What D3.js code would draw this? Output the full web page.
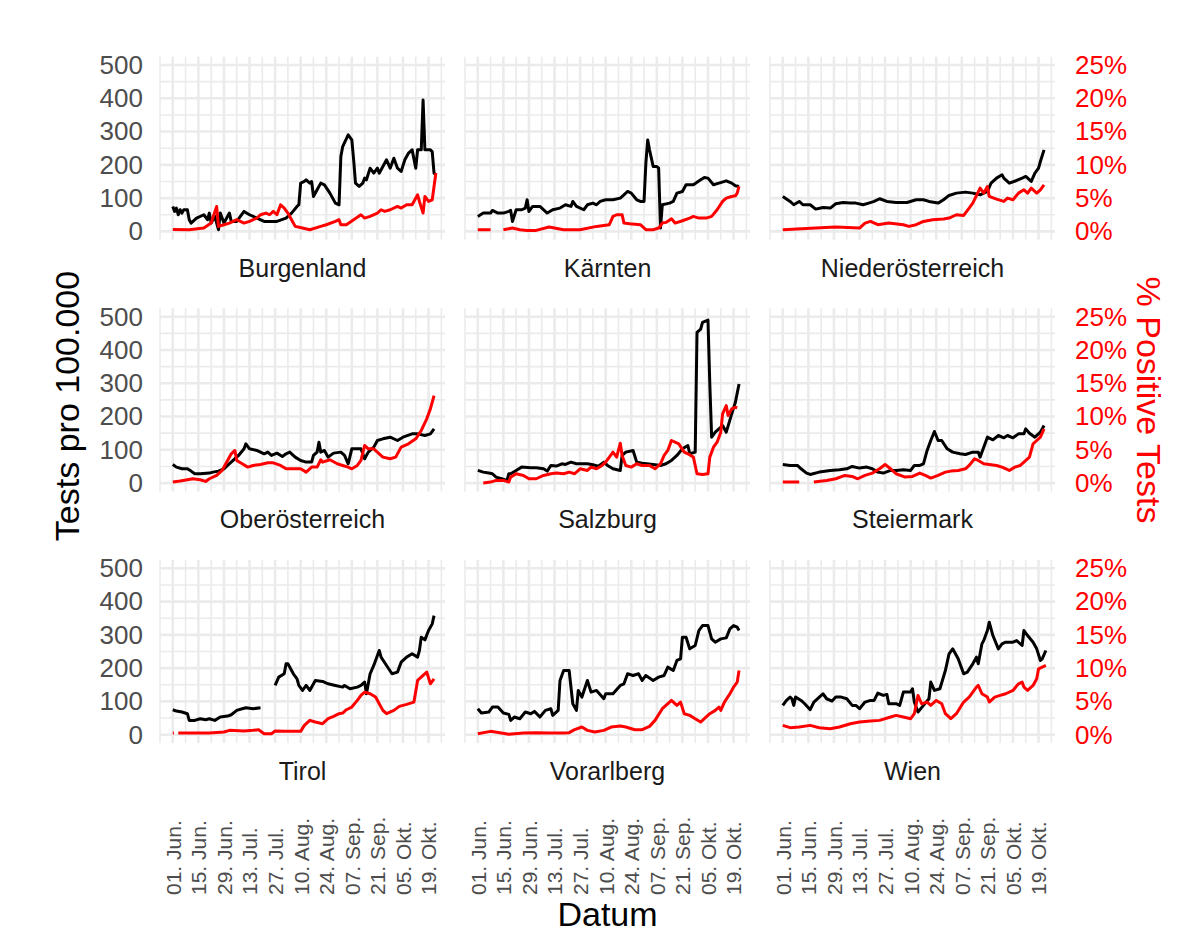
<!DOCTYPE html>
<html>
<head>
<meta charset="utf-8">
<script src="https://cdn.jsdelivr.net/npm/d3@7"></script>
<style>
  body { margin: 0; background: #fff; }
  text { font-family: "Liberation Sans", Arial, Helvetica, sans-serif; }
</style>
</head>
<body>
<div id="chart"></div>
<script>
//Panel order, row by row.
const states = ["Burgenland", "Kärnten", "Niederösterreich",
                "Oberösterreich", "Salzburg", "Steiermark",
                "Tirol", "Vorarlberg", "Wien"];

//Each pair is [days since 01. Jun. 2020, value]. null makes a gap.
//Tests per 100.000 inhabitants.
const testsBurgenland = [[0,75],[1,60],[2,70],[3,50],[4,65],[5,55],[6,65],[8,65],[9,35],[10,25],[13,40],[17,50],[19,35],[20,55],[21,25],[23,45],[25,5],[26,55],[28,25],[31,55],[32,30],[35,30],[39,60],[42,50],[46,40],[50,30],[57,30],[62,40],[65,55],[68,75],[69,80],[70,145],[72,150],[73,155],[75,145],[76,150],[77,105],[79,125],[81,145],[83,140],[86,115],[89,85],[91,80],[92,225],[93,255],[96,290],[98,275],[99,215],[100,145],[102,135],[104,145],[105,160],[106,155],[108,190],[110,175],[112,190],[113,175],[115,195],[117,215],[119,190],[121,220],[123,190],[125,180],[127,215],[129,235],[131,245],[133,190],[134,245],[136,245],[137,395],[138,245],[139,245],[141,245],[142,240],[143,175],[144,170]];
const testsKaernten = [[0,45],[3,55],[7,55],[8,63],[11,55],[14,55],[17,60],[18,63],[19,30],[21,65],[24,65],[26,70],[27,95],[28,60],[30,75],[34,75],[38,55],[41,65],[45,70],[48,80],[51,75],[52,90],[54,75],[58,65],[60,80],[63,85],[65,80],[67,90],[70,95],[74,95],[78,100],[80,110],[82,120],[84,115],[87,95],[89,90],[91,90],[92,205],[93,275],[94,245],[96,195],[98,195],[99,190],[100,10],[101,80],[105,85],[107,90],[109,115],[112,120],[114,140],[118,140],[122,155],[124,162],[126,160],[129,140],[132,145],[136,152],[139,145],[141,137],[143,135]];
const testsNiederoesterreich = [[0,105],[4,90],[6,80],[9,90],[11,80],[15,80],[18,67],[22,72],[26,70],[29,83],[33,87],[37,85],[40,85],[44,80],[47,85],[50,90],[53,98],[57,90],[62,87],[68,87],[73,95],[77,95],[80,90],[85,85],[88,95],[91,108],[95,115],[100,118],[104,115],[108,110],[110,115],[112,120],[114,145],[117,160],[120,170],[121,160],[124,145],[128,153],[131,160],[133,165],[136,150],[138,175],[140,190],[141,210],[143,245]];
const testsOberoesterreich = [[0,56],[2,48],[5,43],[8,43],[10,36],[12,28],[15,28],[20,30],[22,33],[25,36],[28,43],[30,53],[33,68],[36,83],[39,103],[40,118],[42,103],[46,98],[50,88],[52,93],[54,83],[57,90],[60,80],[62,88],[64,93],[67,78],[70,68],[73,63],[76,63],[77,83],[79,93],[80,123],[81,93],[83,98],[85,78],[88,90],[92,93],[94,83],[96,58],[98,103],[101,103],[103,103],[105,73],[107,93],[110,108],[112,128],[115,133],[119,138],[123,128],[126,138],[131,148],[134,148],[138,143],[141,148],[143,163]];
const testsSalzburg = [[0,38],[3,33],[6,30],[8,28],[10,18],[13,13],[16,8],[17,28],[18,28],[21,38],[24,48],[29,46],[32,46],[36,43],[38,36],[40,53],[43,51],[46,58],[48,56],[51,63],[54,58],[60,58],[63,55],[66,51],[69,63],[71,53],[74,43],[78,38],[79,83],[81,93],[85,98],[87,63],[90,60],[96,56],[100,53],[103,58],[106,68],[109,83],[112,103],[115,113],[116,88],[119,93],[120,453],[122,463],[123,483],[126,490],[127,298],[128,138],[130,153],[132,163],[134,173],[136,153],[139,208],[141,243],[143,298]];
const testsSteiermark = [[0,56],[4,53],[8,53],[10,43],[13,30],[15,26],[20,33],[26,38],[31,40],[35,43],[38,50],[42,45],[46,48],[49,43],[52,33],[55,30],[59,38],[62,38],[66,40],[70,38],[72,53],[75,53],[77,58],[79,98],[81,128],[83,155],[85,128],[87,128],[90,103],[93,93],[97,88],[100,86],[104,93],[107,93],[108,78],[110,108],[112,138],[115,130],[118,143],[121,136],[123,143],[126,136],[129,148],[132,148],[133,163],[135,150],[138,138],[141,153],[143,173]];
const testsTirol = [[0,75],[2,71],[5,68],[8,63],[9,43],[12,43],[15,48],[18,45],[20,48],[23,43],[26,53],[30,56],[32,60],[35,73],[38,78],[40,81],[44,78],[48,81],[48.5,null],[56,148],[58,173],[61,183],[62,213],[63,213],[66,183],[68,168],[69,148],[71,133],[73,148],[75,133],[78,163],[82,160],[85,153],[89,148],[93,143],[94,148],[97,138],[101,143],[103,148],[105,158],[106,123],[108,183],[110,208],[111,223],[113,253],[114,233],[117,208],[120,183],[123,188],[125,218],[128,233],[131,243],[134,233],[135,253],[136,293],[138,285],[140,313],[142,333],[143,358]];
const testsVorarlberg = [[0,78],[2,65],[6,68],[8,83],[11,83],[14,65],[17,61],[18,43],[20,53],[23,48],[26,68],[29,63],[31,70],[34,53],[37,73],[40,78],[41,58],[44,73],[45,163],[47,193],[50,193],[52,93],[54,73],[55,133],[57,113],[60,163],[62,128],[65,133],[69,108],[70,123],[74,123],[78,148],[80,153],[82,183],[85,178],[88,183],[90,163],[92,178],[96,163],[99,173],[102,178],[104,203],[107,193],[109,223],[111,228],[112,293],[114,293],[116,258],[119,268],[121,313],[123,328],[126,328],[128,288],[130,278],[133,288],[136,291],[138,318],[140,328],[142,323],[143,313]];
const testsWien = [[0,88],[2,103],[4,113],[5,108],[6,88],[7,113],[10,103],[12,93],[15,75],[17,98],[20,113],[22,123],[24,108],[27,101],[29,113],[32,113],[35,108],[38,88],[40,88],[42,78],[45,98],[48,103],[50,103],[52,125],[55,118],[57,121],[58,93],[62,93],[64,88],[66,128],[70,128],[71,138],[72,98],[74,68],[77,88],[80,108],[81,158],[83,133],[86,138],[89,193],[91,243],[93,258],[96,228],[99,183],[101,188],[104,213],[106,233],[107,213],[109,273],[110,283],[112,313],[113,338],[115,298],[118,258],[120,273],[122,278],[126,278],[128,283],[131,268],[132,313],[134,298],[137,278],[139,258],[141,223],[142,228],[144,253]];

//Share of positive tests in percent.
const posBurgenland = [[0,0.3],[9,0.25],[17,0.5],[21,1.25],[24,3.75],[25,0.75],[28,1],[31,1.25],[35,1.75],[39,1.25],[42,1.5],[46,2],[48,2.5],[51,2.75],[53,2.5],[55,3],[57,2.5],[59,4],[61,3.5],[63,2.75],[65,1.75],[67,0.75],[71,0.5],[75,0.25],[81,0.75],[84,1],[89,1.5],[91,1.75],[92,1],[95,1],[99,1.75],[103,2.5],[105,2],[108,2.25],[112,2.75],[114,3.25],[116,3],[119,3.25],[123,3.75],[125,3.5],[128,4],[131,4],[134,5.5],[135,4.5],[137,2.75],[138,5.25],[140,4.5],[142,4.75],[144,8.75]];
const posKaernten = [[0,0.25],[7,0.25],[7.5,null],[14,0.25],[19,0.5],[23,0.25],[27,0.15],[32,0.15],[39,0.65],[47,0.25],[56,0.25],[65,0.75],[72,1],[74,2.25],[76,2.5],[79,2.5],[80,1.25],[83,1.15],[89,1],[92,0.25],[96,0.25],[99,0.5],[101,1.25],[103,1.35],[106,1.9],[108,1.25],[112,1.6],[116,2],[118,2.25],[121,2],[125,2],[128,2.25],[131,3.25],[134,4.5],[136,5],[139,5.25],[141,5.35],[142,5.75],[143,6.75]];
const posNiederoesterreich = [[0,0.25],[18,0.5],[29,0.65],[42,0.5],[45,1.25],[48,1.5],[52,1],[58,1.25],[66,1],[69,0.75],[73,1],[77,1.5],[82,1.75],[88,1.85],[91,2],[95,2.5],[99,2.4],[102,3.5],[104,4.25],[108,6.5],[110,5.75],[112,6.75],[113,5.25],[117,4.85],[121,4.5],[123,5],[126,4.75],[129,5.75],[132,6.25],[134,5.75],[136,6.5],[139,5.75],[141,6.25],[143,7]];
const posOberoesterreich = [[0,0.15],[4,0.3],[8,0.5],[11,0.65],[15,0.5],[18,0.25],[20,0.65],[24,1.15],[27,1.9],[30,3.4],[32,4.4],[34,4.9],[35,3.4],[38,2.9],[41,2.4],[44,2.65],[48,2.8],[52,3.05],[55,3.05],[59,2.65],[62,2.15],[66,2.15],[70,2.15],[73,1.65],[76,2.4],[79,2.4],[81,3.5],[82,3.15],[86,3.5],[90,2.9],[93,2.65],[96,2.4],[98,2.15],[101,2.65],[103,3.4],[105,5.65],[107,5.15],[110,5.15],[113,4.4],[115,3.9],[119,3.65],[122,3.9],[125,5.4],[129,5.9],[133,6.65],[136,7.9],[139,9.65],[141,11.15],[143,13.15]];
const posSalzburg = [[3,0],[7,0.15],[10,0.4],[14,0.4],[17,0.15],[18,0.9],[21,1.4],[25,1.15],[28,0.65],[32,0.65],[36,1.15],[40,1.4],[43,1.5],[47,1.4],[50,1.65],[53,1.4],[56,2.15],[60,1.9],[62,2.4],[65,2.15],[68,2.65],[70,3.15],[72,3.9],[74,4.65],[76,3.9],[78,6],[79,4.15],[81,2.65],[84,2.4],[87,2.9],[90,2.65],[94,2.65],[97,2.15],[100,2.9],[102,4.15],[104,4.9],[106,6.4],[108,6.15],[110,5.9],[113,4.65],[115,4.4],[118,3.9],[120,1.4],[123,1.3],[126,1.4],[127,3.9],[129,5.4],[131,6.15],[133,7.65],[134,10.4],[136,11.65],[137,10.15],[139,11.15],[141,11.4],[142,11.3]];
const posSteiermark = [[0,0.15],[9,0.15],[9.5,null],[17,0.15],[24,0.4],[29,0.65],[34,1.15],[38,1],[41,0.65],[45,1.15],[49,1.5],[53,2.15],[56,2.8],[59,2.15],[62,1.4],[67,0.9],[71,1],[75,1.5],[78,1.15],[81,0.75],[85,1.15],[89,1.65],[92,1.8],[96,1.9],[100,2.15],[102,2.65],[105,3.65],[107,3.4],[110,2.9],[113,2.8],[117,2.65],[120,2.4],[124,1.9],[127,2.4],[130,2.65],[132,3.15],[135,3.9],[137,5.9],[139,6.4],[141,6.9],[143,8.15]];
const posTirol = [[0,0.25],[0.6,0.25],[1,null],[3,0.25],[13,0.25],[20,0.25],[28,0.4],[31,0.65],[39,0.55],[44,0.65],[47,0.75],[50,0.15],[54,0.15],[56,0.55],[62,0.5],[70,0.5],[72,1.4],[75,2.15],[78,1.9],[82,1.65],[85,2.4],[88,2.75],[91,3.15],[93,3.25],[95,3.75],[98,4.15],[101,5.15],[103,5.9],[105,6.4],[108,6.15],[111,5.65],[113,4.65],[115,3.65],[117,3.15],[121,3.65],[124,4.25],[128,4.55],[132,4.9],[134,8.15],[137,8.9],[139,9.4],[141,7.65],[143,8.4]];
const posVorarlberg = [[0,0.15],[7,0.5],[12,0.3],[17,0.05],[25,0.25],[32,0.3],[39,0.25],[47,0.25],[50,0.3],[53,0.75],[57,1.15],[60,0.65],[64,0.4],[69,0.65],[73,1.15],[78,1.3],[81,1.15],[86,0.75],[90,0.75],[94,1.25],[97,2.15],[101,3.9],[103,4.4],[106,5.15],[109,4.4],[111,4.9],[113,3.15],[116,2.9],[119,2.4],[122,1.9],[124,2.4],[127,3.15],[130,3.65],[132,4.15],[133,3.65],[135,4.9],[138,6.15],[140,7.15],[142,7.9],[143,9.65]];
const posWien = [[0,1.4],[4,1.05],[9,1.15],[15,1.4],[20,1.05],[26,0.9],[31,1.15],[37,1.65],[42,1.9],[48,2.05],[53,2.15],[59,2.65],[62,2.9],[66,2.65],[70,2.4],[72,3.15],[74,5.9],[76,4.65],[79,4.9],[81,4.4],[84,5.15],[87,4.65],[89,3.15],[92,2.4],[95,3.15],[99,4.9],[102,5.65],[106,7.15],[107,7.4],[109,6.15],[112,5.65],[113,4.9],[116,5.65],[119,5.9],[122,6.15],[126,6.65],[129,7.65],[131,7.9],[132,7.15],[134,6.65],[137,7.4],[139,8.4],[140,9.9],[142,10.15],[144,10.4]];

//Axis breaks.
const testTicks = [0, 100, 200, 300, 400, 500];
const posTicks = [0, 5, 10, 15, 20, 25];
const dateTickDays = [0, 14, 28, 42, 56, 70, 84, 98, 112, 126, 140];

const testsByState = [testsBurgenland, testsKaernten, testsNiederoesterreich, testsOberoesterreich,
                      testsSalzburg, testsSteiermark, testsTirol, testsVorarlberg, testsWien];
const posByState = [posBurgenland, posKaernten, posNiederoesterreich, posOberoesterreich,
                    posSalzburg, posSteiermark, posTirol, posVorarlberg, posWien];

//Page and panel layout.
const w = 1200, h = 949;
const panelW = 285, panelH = 183;
const colLeft = [160, 465, 770];
const rowTop = [56.7, 308.4, 560];

const day0 = new Date(2020, 5, 1);
const toDate = (d) => new Date(day0.getTime() + d * 86400000);

//German date labels like "01. Jun."
const de = d3.timeFormatLocale({
  dateTime: "%A, der %e. %B %Y, %X", date: "%d.%m.%Y", time: "%H:%M:%S",
  periods: ["AM", "PM"],
  days: ["Sonntag","Montag","Dienstag","Mittwoch","Donnerstag","Freitag","Samstag"],
  shortDays: ["So","Mo","Di","Mi","Do","Fr","Sa"],
  months: ["Januar","Februar","März","April","Mai","Juni","Juli","August","September","Oktober","November","Dezember"],
  shortMonths: ["Jan","Feb","Mär","Apr","Mai","Jun","Jul","Aug","Sep","Okt","Nov","Dez"]
});
const dateFormat = de.format("%d. %b.");

//Scales shared by all panels (ggplot adds 5% padding on each side).
const xScale = d3.scaleTime()
  .domain([toDate(-7), toDate(149)])
  .range([0, panelW]);
const yScale = d3.scaleLinear().domain([-25, 525]).range([panelH, 0]);
const yPosScale = d3.scaleLinear().domain([-1.25, 26.25]).range([panelH, 0]);

const svg = d3.select("#chart")
  .append("svg")
  .attr("width", w)
  .attr("height", h);

const gridColor = "#ebebeb";
const majorX = dateTickDays.map(toDate);
const minorX = d3.range(-7, 150, 14).map(toDate);
const minorY = [50, 150, 250, 350, 450];

const testLine = d3.line()
  .defined((d) => d[1] != null)
  .x((d) => xScale(toDate(d[0])))
  .y((d) => yScale(d[1]));

const posLine = d3.line()
  .defined((d) => d[1] != null)
  .x((d) => xScale(toDate(d[0])))
  .y((d) => yPosScale(d[1]));

states.forEach((name, i) => {
  const row = Math.floor(i / 3), col = i % 3;
  const g = svg.append("g")
    .attr("transform", "translate(" + colLeft[col] + "," + rowTop[row] + ")");

  //Grid lines.
  g.selectAll(".minor-y").data(minorY).enter().append("line")
    .attr("x1", 0).attr("x2", panelW)
    .attr("y1", (d) => yScale(d)).attr("y2", (d) => yScale(d))
    .attr("stroke", gridColor).attr("stroke-width", 1.6);
  g.selectAll(".minor-x").data(minorX).enter().append("line")
    .attr("y1", 0).attr("y2", panelH)
    .attr("x1", (d) => xScale(d)).attr("x2", (d) => xScale(d))
    .attr("stroke", gridColor).attr("stroke-width", 1.6);
  g.selectAll(".major-y").data(testTicks).enter().append("line")
    .attr("x1", 0).attr("x2", panelW)
    .attr("y1", (d) => yScale(d)).attr("y2", (d) => yScale(d))
    .attr("stroke", gridColor).attr("stroke-width", 2.6);
  g.selectAll(".major-x").data(majorX).enter().append("line")
    .attr("y1", 0).attr("y2", panelH)
    .attr("x1", (d) => xScale(d)).attr("x2", (d) => xScale(d))
    .attr("stroke", gridColor).attr("stroke-width", 2.6);

  //Data lines.
  g.append("path")
    .datum(testsByState[i])
    .attr("d", testLine)
    .attr("fill", "none")
    .attr("stroke", "#000")
    .attr("stroke-width", 3)
    .attr("stroke-linejoin", "round");
  g.append("path")
    .datum(posByState[i])
    .attr("d", posLine)
    .attr("fill", "none")
    .attr("stroke", "#ff0000")
    .attr("stroke-width", 3)
    .attr("stroke-linejoin", "round");

  //Strip label under the panel.
  g.append("text")
    .attr("x", panelW / 2)
    .attr("y", panelH + 37)
    .attr("text-anchor", "middle")
    .attr("font-size", 25)
    .attr("fill", "#1a1a1a")
    .text(name);

  //Left axis on the first column.
  if (col === 0) {
    const ax = g.append("g")
      .call(d3.axisLeft(yScale).tickValues(testTicks).tickSize(0).tickPadding(17));
    ax.select(".domain").remove();
    ax.selectAll("text").attr("font-size", 26).attr("fill", "#4d4d4d")
      .attr("font-family", "Liberation Sans, Arial, sans-serif");
  }

  //Right axis on the last column.
  if (col === 2) {
    const ax = g.append("g")
      .attr("transform", "translate(" + panelW + ",0)")
      .call(d3.axisRight(yPosScale).tickValues(posTicks).tickSize(0).tickPadding(20)
        .tickFormat((d) => d + "%"));
    ax.select(".domain").remove();
    ax.selectAll("text").attr("font-size", 26).attr("fill", "#ff0000")
      .attr("font-family", "Liberation Sans, Arial, sans-serif");
  }

  //Date axis on the bottom row, labels turned upright.
  if (row === 2) {
    const ax = g.append("g")
      .attr("transform", "translate(0," + panelH + ")")
      .call(d3.axisBottom(xScale).tickValues(majorX).tickSize(0).tickFormat(dateFormat));
    ax.select(".domain").remove();
    ax.selectAll("text")
      .attr("transform", "rotate(-90)")
      .attr("x", -(895 - rowTop[2] - panelH))
      .attr("y", 0)
      .attr("dy", "0.35em")
      .attr("text-anchor", "start")
      .attr("font-size", 21)
      .attr("fill", "#4d4d4d")
      .attr("font-family", "Liberation Sans, Arial, sans-serif");
  }
});

//Axis titles.
svg.append("text")
  .attr("transform", "translate(79,406) rotate(-90)")
  .attr("text-anchor", "middle")
  .attr("font-size", 34)
  .attr("fill", "#000")
  .text("Tests pro 100.000");

svg.append("text")
  .attr("transform", "translate(1137,400) rotate(90)")
  .attr("text-anchor", "middle")
  .attr("font-size", 34)
  .attr("fill", "#ff0000")
  .text("% Positive Tests");

svg.append("text")
  .attr("x", 607.5)
  .attr("y", 926)
  .attr("text-anchor", "middle")
  .attr("font-size", 34)
  .attr("fill", "#000")
  .text("Datum");
</script>
</body>
</html>
